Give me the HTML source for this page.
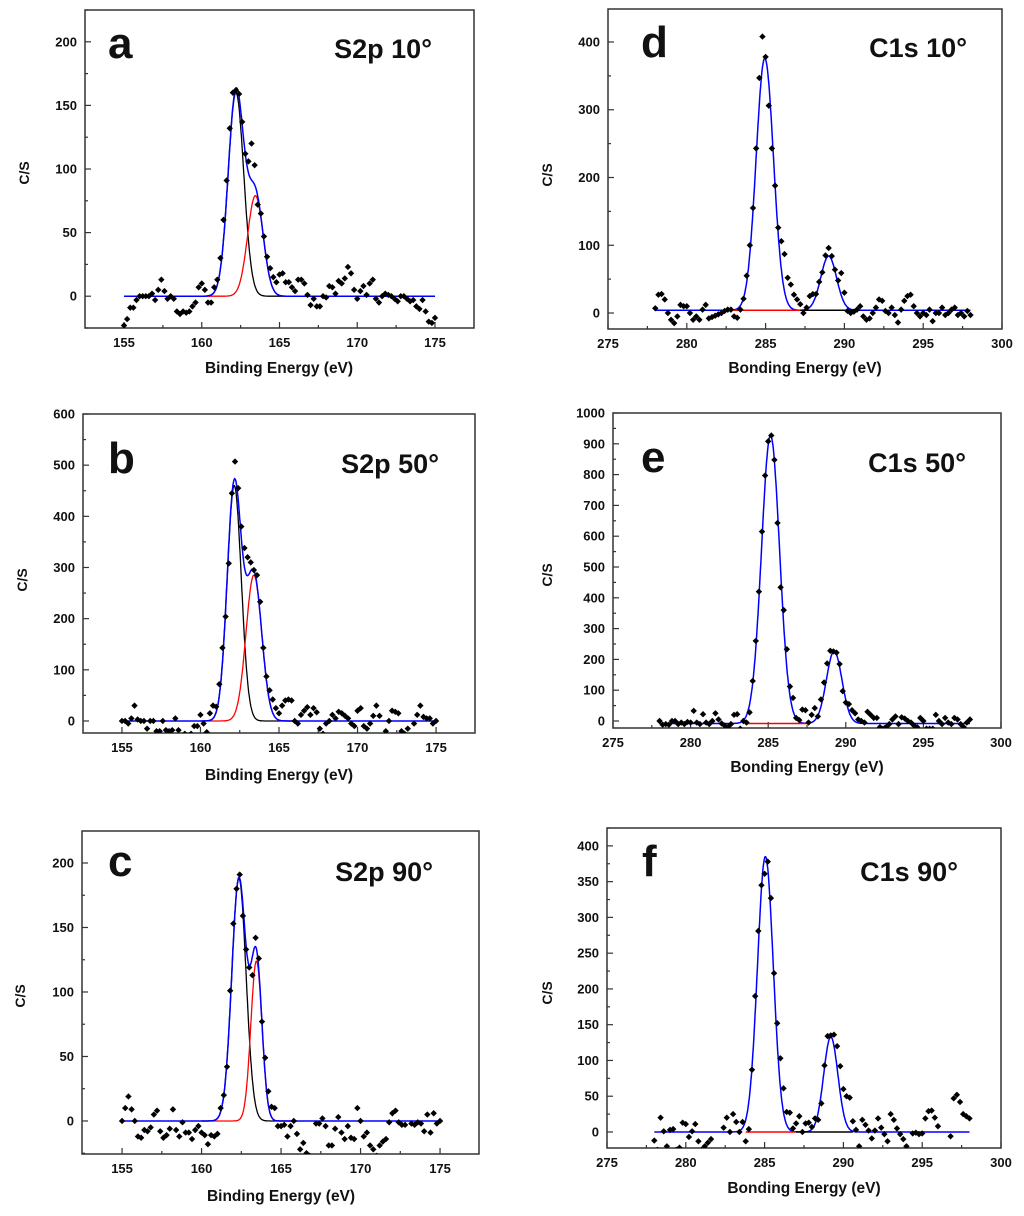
<!DOCTYPE html>
<html><head><meta charset="utf-8"><style>
html,body{margin:0;padding:0;background:#fff;}
svg{display:block;font-family:"Liberation Sans",Arial,sans-serif;font-weight:bold;}
</style></head><body>
<svg id="fig" width="1024" height="1216" viewBox="0 0 1024 1216" xmlns="http://www.w3.org/2000/svg"></svg>
<script>
// ---- data (x sampled every 0.2 eV from start) ----
const sStart = 155, cStart = 278, step = 0.2;
const aY = [-23,-18,-9,-9,-3,0,0,0,0,2, -3,5,13,4,-2,0,-2,-12,-14,-12, -13,-12,-8,-5,7,10,5,-5,-5,7, 13,30,60,91,132,160,162,159,137,112, 106,120,103,72,65,47,31,22,15,11, 17,18,11,11,7,4,13,13,10,1, -7,-2,-8,-8,0,-1,8,7,2,12, 10,14,23,18,5,-2,4,8,1,10, 13,-2,-5,0,2,1,0,-2,-4,0, 0,-2,-4,-3,-8,-10,-3,-12,-20,-21,-17];
const bY = [0,0,-5,5,30,3,0,0,-15,0, 0,-20,-20,0,-18,-20,-18,5,-18,-30, -25,-30,-25,-10,-10,12,-5,-22,15,30, 28,72,143,204,308,445,507,455,380,338, 320,310,295,285,233,143,87,60,42,25, 15,30,40,42,40,0,-5,12,20,27, 12,25,17,-15,-25,-5,0,12,5,18, 15,10,5,-5,-10,20,25,-10,-15,-5, 10,30,10,-30,-20,0,20,18,15,-20, -25,-15,-30,-5,12,30,8,5,5,-5,0];
const cY = [0,10,19,9,0,-12,-13,-7,-8,-5, 5,8,-8,-13,-11,-6,9,-7,-12,-1, -9,-9,-14,-7,-4,-9,-11,-18,-11,-12, -10,10,20,42,101,153,180,191,159,133, 119,113,142,126,77,49,23,11,10,-4, -4,-3,-12,-4,0,-10,-22,-17,-25,-27, -28,-2,-2,2,-4,-19,-19,-6,3,-9, -14,-4,-13,-14,10,0,-12,-9,-19,-22, -27,-19,-16,-14,-1,6,8,-1,-3,-3, -28,-2,-3,-1,-2,-8,5,-9,6,-2,0];
const dY = [7,27,28,20,0,-10,-15,-5,12,10, 10,0,-10,-5,-10,5,12,-8,-6,-4, -2,0,3,5,5,-5,-7,5,21,55, 100,155,243,347,408,378,306,243,188,126, 106,87,52,42,27,20,13,0,8,25, 28,28,46,60,85,96,84,64,48,59, 30,3,0,2,5,10,-5,-10,-8,0, 8,20,18,3,0,8,-3,-14,5,18, 25,27,10,0,-5,0,-3,5,-12,0, 0,8,-3,0,5,8,-3,0,-5,3,-3];
const eY = [0,-12,-10,-12,0,0,-10,-5,-10,-3, -5,33,-5,-10,22,-5,-10,0,25,5, -8,-15,-20,-10,20,22,-25,0,-5,28, 130,260,420,615,797,908,927,848,643,434, 360,233,112,75,10,3,37,35,-5,20, 42,15,70,125,187,228,226,222,185,97, 60,55,35,25,5,0,-5,30,20,10, 10,-20,-25,-20,-10,5,15,-10,12,8, 0,-5,-15,-20,10,0,-25,-25,-25,20, 0,-10,10,-5,-10,10,5,-10,-20,-5,5];
const fY = [-12,-25,20,1,-20,3,4,-25,-22,13, 11,-7,1,11,-13,-25,-20,-15,-10,-30, -30,-30,6,20,0,25,14,0,14,-13, 4,87,190,281,345,361,378,327,222,152, 103,61,28,27,5,12,22,0,12,13, 7,19,17,40,93,134,135,136,120,92, 60,50,48,15,3,-20,17,10,2,-9, 2,19,6,-3,-13,25,17,5,-3,-10, -20,-30,-2,-1,-3,-2,19,29,30,20, 8,-30,-30,-30,-6,47,52,42,25,22,19];
// fit peaks: centers, heights, sigmas, baseline
const aCenters=[162.2,163.45], aHeights=[160,79], aSigmas=[0.5,0.5], aBase=0;
const bCenters=[162.15,163.4], bHeights=[460,285], bSigmas=[0.45,0.5], bBase=0;
const cCenters=[162.35,163.45], cHeights=[188,124], cSigmas=[0.45,0.35], cBase=0;
const dCenters=[284.95,289.0], dHeights=[372,80], dSigmas=[0.55,0.5], dBase=4;
const eCenters=[285.15,289.25], eHeights=[935,235], eSigmas=[0.58,0.5], eBase=-8;
const fCenters=[285.05,289.2], fHeights=[385,133], fSigmas=[0.5,0.45], fBase=0;
const sTicks=[155,160,165,170,175], cTicks=[275,280,285,290,295,300];

const NS="http://www.w3.org/2000/svg";
const svg=document.getElementById('fig');
function mk(tag,attrs,parent){const e=document.createElementNS(NS,tag);for(const k in attrs)e.setAttribute(k,attrs[k]);(parent||svg).appendChild(e);return e;}

const panels=[
 {id:'a',L:85,R:474,T:10,B:328,x0:152.49,x1:177.51,y0:-25,y1:225,yMaj:50,xT:sTicks,start:sStart,Y:aY,C:aCenters,H:aHeights,S:aSigmas,base:aBase,kind:'S',title:'S2p 10°',lx:108,lb:58,tr:432,tb:58,xt:'Binding Energy (eV)',xtx:279,xtb:373,csx:24,csy:173},
 {id:'b',L:83,R:475,T:414,B:733,x0:152.52,x1:177.48,y0:-23.5,y1:600,yMaj:100,xT:sTicks,start:sStart,Y:bY,C:bCenters,H:bHeights,S:bSigmas,base:bBase,kind:'S',title:'S2p 50°',lx:108,lb:473,tr:439,tb:473,xt:'Binding Energy (eV)',xtx:279,xtb:780,csx:22,csy:580},
 {id:'c',L:82,R:479,T:831,B:1154,x0:152.48,x1:177.45,y0:-25.6,y1:224.8,yMaj:50,xT:sTicks,start:sStart,Y:cY,C:cCenters,H:cHeights,S:cSigmas,base:cBase,kind:'S',title:'S2p 90°',lx:108,lb:876,tr:433,tb:881,xt:'Binding Energy (eV)',xtx:281,xtb:1201,csx:20,csy:996},
 {id:'d',L:608,R:1002,T:9,B:329,x0:275,x1:300,y0:-23.6,y1:448.7,yMaj:100,xT:cTicks,start:cStart,Y:dY,C:dCenters,H:dHeights,S:dSigmas,base:dBase,kind:'C',seg:[[283,287.2,'#ff0000'],[287.2,291,'#000']],title:'C1s 10°',lx:641,lb:57,tr:967,tb:57,xt:'Bonding Energy (eV)',xtx:805,xtb:373,csx:547,csy:175},
 {id:'e',L:613,R:1001,T:413,B:728,x0:275,x1:300,y0:-22.7,y1:1000,yMaj:100,xT:cTicks,start:cStart,Y:eY,C:eCenters,H:eHeights,S:eSigmas,base:eBase,kind:'C',seg:[[283.5,287.5,'#ff0000']],title:'C1s 50°',lx:641,lb:472,tr:966,tb:472,xt:'Bonding Energy (eV)',xtx:807,xtb:772,csx:547,csy:575},
 {id:'f',L:607,R:1001,T:828,B:1148,x0:275,x1:300,y0:-22.4,y1:425,yMaj:50,xT:cTicks,start:cStart,Y:fY,C:fCenters,H:fHeights,S:fSigmas,base:fBase,kind:'C',seg:[[283.8,287,'#ff0000'],[287,290.6,'#000']],title:'C1s 90°',lx:642,lb:876,tr:958,tb:881,xt:'Bonding Energy (eV)',xtx:804,xtb:1193,csx:547,csy:993}
];

panels.forEach(p=>{
 const sx=v=>p.L+(v-p.x0)/(p.x1-p.x0)*(p.R-p.L);
 const sy=v=>p.B-(v-p.y0)/(p.y1-p.y0)*(p.B-p.T);
 const g=mk('g',{});
 
 
 const cid='clip-'+p.id;
 const cp=mk('clipPath',{id:cid},g);
 mk('rect',{x:p.L,y:p.T,width:p.R-p.L,height:p.B-p.T},cp);
 const tg=mk('g',{stroke:'#333','stroke-width':1.2},g);
 
 
 for(let v=Math.ceil(p.y0/(p.yMaj/2))*(p.yMaj/2); v<=p.y1+1e-6; v+=p.yMaj/2){
  const y=sy(v), maj=Math.abs(v/p.yMaj-Math.round(v/p.yMaj))<1e-6;
  mk('line',{x1:p.L,x2:p.L+(maj?6:3),y1:y,y2:y},tg);
  if(maj){const t=mk('text',{x:p.L-8,y:y+4.5,'text-anchor':'end','font-size':13,fill:'#111'},g);t.textContent=v;
   
   }
 }
 const xs=p.xT;
 for(let i=0;i<xs.length;i++){
  const x=sx(xs[i]);
  mk('line',{x1:x,x2:x,y1:p.B,y2:p.B-6},tg);
  if(i<xs.length-1){const xm=sx((xs[i]+xs[i+1])/2);mk('line',{x1:xm,x2:xm,y1:p.B,y2:p.B-3},tg);}
  const t=mk('text',{x:x,y:p.B+19,'text-anchor':'middle','font-size':13,fill:'#111'},g);t.textContent=xs[i];
  
  
 }
 const fr=mk('rect',{x:p.L,y:p.T,width:p.R-p.L,height:p.B-p.T,fill:'none',stroke:'#333','stroke-width':1.5},g);
 
 
 const xa=p.start, xb=p.start+20;
 const comp=(k,x)=>p.H[k]*Math.exp(-((x-p.C[k])**2)/(2*p.S[k]*p.S[k]));
 const path=(f,a,b)=>{let d='';for(let x=a;x<=b+1e-9;x+=0.02){d+=(d?'L':'M')+sx(x).toFixed(1)+','+sy(f(x)).toFixed(1);}return d;};
 const cl=mk('g',{'clip-path':'url(#'+cid+')',fill:'none'},g);
 if(p.kind==='S'){
  const k0=mk('path',{d:path(x=>p.base+comp(0,x),xa+5,xb-9),stroke:'#000','stroke-width':1.3},cl);
  
  
  const k1=mk('path',{d:path(x=>p.base+comp(1,x),xa+5,xb-9),stroke:'#ff0000','stroke-width':1.3},cl);
  
  
 }
 const env=mk('path',{d:path(x=>p.base+comp(0,x)+comp(1,x),xa,xb),stroke:'#0000ff','stroke-width':1.5},cl);
 
 
 (p.seg||[]).forEach(s=>{
  const l=mk('line',{x1:sx(s[0]),x2:sx(s[1]),y1:sy(p.base),y2:sy(p.base),stroke:s[2],'stroke-width':1.5},cl);
  
  
 });
 const dg=mk('g',{'clip-path':'url(#'+cid+')',fill:'#000'},g);
 
 
 p.Y.forEach((v,i)=>{
  const x=sx(p.start+i*step), y=sy(v), r=3.2;
  const m=mk('path',{d:`M${x},${y-r}L${x+r},${y}L${x},${y+r}L${x-r},${y}Z`},dg);
  
  
 });
 const lt=mk('text',{x:p.lx,y:p.lb,'font-size':44,fill:'#111'},g);lt.textContent=p.id;
 
 
 const tt=mk('text',{x:p.tr,y:p.tb,'font-size':27,'text-anchor':'end',fill:'#111'},g);tt.textContent=p.title;
 
 
 const xt=mk('text',{x:p.xtx,y:p.xtb,'font-size':15.5,'text-anchor':'middle',fill:'#111'},g);xt.textContent=p.xt;
 
 
 const yt=mk('text',{x:0,y:0,'font-size':14,'text-anchor':'middle',fill:'#111',transform:`translate(${p.csx+5},${p.csy}) rotate(-90)`},g);yt.textContent='C/S';
 
 
});
</script>
</body></html>
